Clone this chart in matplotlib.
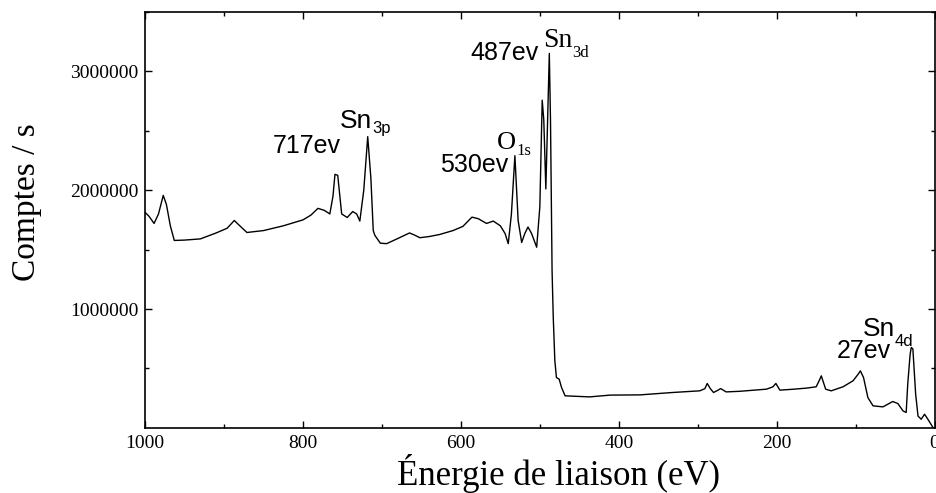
import matplotlib
matplotlib.use("Agg")
import matplotlib.pyplot as plt
from matplotlib.ticker import MultipleLocator, FixedLocator

# XPS survey spectrum (binding energy in eV, counts/s)
energy = [1000, 995, 988.6, 983, 977, 973, 968, 963, 950, 930, 910, 896, 887,
          880, 871, 850, 825, 800, 790, 781, 773, 766, 762, 759.5, 756, 751,
          744, 737, 732, 728, 723, 718, 714, 711, 709, 702, 694, 681, 665, 658,
          652, 640, 627, 610, 597.5, 586, 578, 567.5, 559, 550, 544, 540, 536,
          531.6, 527.5, 523, 519, 515, 510.5, 504, 500, 497, 495, 492.4, 490.5,
          488, 486.5, 484.5, 483, 481, 479, 475.5, 472.5, 468, 437, 411, 373,
          332, 297.5, 291, 288, 284, 280, 275, 271, 264, 247, 213, 205, 201,
          196, 180, 162, 150, 146, 143.5, 138, 131, 116, 103.4, 97, 94, 90,
          84.5, 78, 65.5, 53, 46.5, 40, 36, 34, 31, 29.5, 27.5, 24, 21, 17,
          12.7, 8.5, 2]
counts_m = [1.813, 1.78, 1.72, 1.80, 1.956, 1.88, 1.70, 1.577, 1.58, 1.59, 1.64,
            1.68, 1.745, 1.70, 1.644, 1.66, 1.70, 1.75, 1.79, 1.847, 1.83, 1.80,
            1.95, 2.133, 2.125, 1.80, 1.77, 1.82, 1.80, 1.74, 2.0, 2.45, 2.1,
            1.66, 1.62, 1.554, 1.55, 1.59, 1.64, 1.62, 1.60, 1.61, 1.627, 1.66,
            1.695, 1.773, 1.76, 1.72, 1.74, 1.70, 1.635, 1.55, 1.80, 2.29,
            1.745, 1.56, 1.636, 1.69, 1.636, 1.52, 1.86, 2.757, 2.59, 2.01, 2.5,
            3.15, 2.59, 1.32, 0.93, 0.565, 0.424, 0.41, 0.34, 0.27, 0.261,
            0.276, 0.278, 0.298, 0.312, 0.33, 0.374, 0.33, 0.298, 0.315, 0.331,
            0.303, 0.308, 0.326, 0.345, 0.374, 0.318, 0.325, 0.335, 0.346,
            0.40, 0.438, 0.326, 0.312, 0.346, 0.396, 0.45, 0.48, 0.424, 0.255,
            0.186, 0.177, 0.222, 0.205, 0.143, 0.13, 0.37, 0.62, 0.677, 0.664,
            0.284, 0.10, 0.073, 0.115, 0.073, 0.003]
counts = [c * 1e6 for c in counts_m]

# energy labels: (text, x, y)
ev_labels = [
    ("717ev", 838, 2.31e6),
    ("530ev", 626.6, 2.15e6),
    ("487ev", 588.6, 3.095e6),
    ("27ev", 124, 0.59e6),
]
# element labels: (main, subscript, x, y, family, size, sub_dy)
elem_labels = [
    ("Sn", "3p", 753, 2.52e6, "Liberation Sans", 19, 0),
    ("O", "1s", 554.4, 2.35e6, "Liberation Serif", 19, -1),
    ("Sn", "3d", 496, 3.204e6, "Liberation Serif", 20, -3),
    ("Sn", "4d", 91, 0.776e6, "Liberation Sans", 19, -4),
]

fig = plt.figure(figsize=(9.36, 4.93), dpi=100)
ax = fig.add_axes([0.155, 0.132, 0.8435, 0.844])

ax.plot(energy, counts, color="black", linewidth=1.0)

ax.set_xlim(1000, 0)
ax.set_ylim(0, 3.5e6)

ax.xaxis.set_major_locator(MultipleLocator(200))
ax.xaxis.set_minor_locator(MultipleLocator(100))
ax.yaxis.set_major_locator(FixedLocator([1e6, 2e6, 3e6]))
ax.yaxis.set_minor_locator(FixedLocator([5e5, 1.5e6, 2.5e6, 3.5e6]))
ax.set_yticklabels(["1000000", "2000000", "3000000"])

ax.tick_params(which="both", direction="in", top=True, right=True,
               width=1.0, labelsize=14, pad=5)
ax.tick_params(which="major", length=5)
ax.tick_params(which="minor", length=3)
for lab in ax.get_xticklabels() + ax.get_yticklabels():
    lab.set_fontfamily("Liberation Serif")
for sp in ax.spines.values():
    sp.set_linewidth(1.2)

ax.set_xlabel("Énergie de liaison (eV)", fontfamily="Liberation Serif",
              fontsize=25)
ax.xaxis.set_label_coords(0.524, -0.062)
ax.set_ylabel("Comptes / s", fontfamily="Liberation Serif", fontsize=24)
ax.yaxis.set_label_coords(-0.13, 0.543)

for txt, x, y in ev_labels:
    ax.text(x, y, txt, fontfamily="Liberation Sans", fontsize=18,
            ha="left", va="baseline")

for main, sub, x, y, fam, size, dy in elem_labels:
    t = ax.text(x, y, main, fontfamily=fam, fontsize=size,
                ha="left", va="baseline")
    ax.annotate(sub, xy=(1, 0), xycoords=t, xytext=(0, dy),
                textcoords="offset points", fontfamily=fam, fontsize=12,
                ha="left", va="baseline")

fig.savefig("out.png", dpi=100)
